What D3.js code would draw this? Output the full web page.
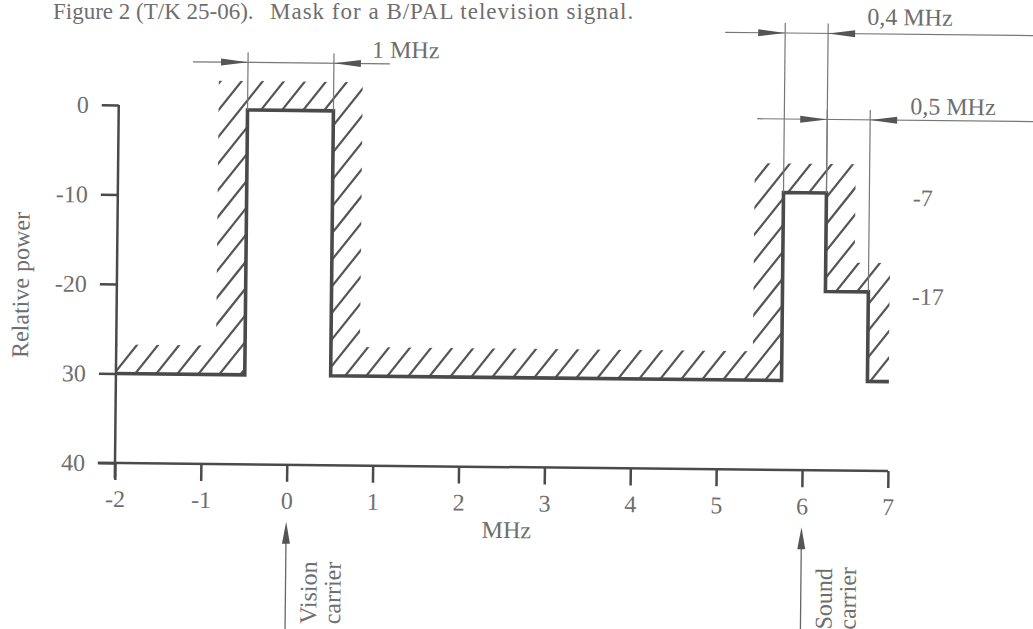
<!DOCTYPE html>
<html>
<head>
<meta charset="utf-8">
<script src="https://cdn.jsdelivr.net/npm/d3@7"></script>
<style>
body{margin:0;background:#fff;}
svg{display:block;font-family:"Liberation Serif","Times New Roman",serif;}
</style>
</head>
<body>
<svg width="1033" height="629"></svg>
<script>
// mask outline, MHz against relative power
const maskFreq  = [-2, -0.5, -0.5, 0.5, 0.5, 5.75, 5.75, 6.25, 6.25, 6.75, 6.75, 7];
const maskLevel = [-30, -30, -0.4, -0.4, -30, -30, -9, -9, -20, -20, -30, -30];
const xTicks = [-2, -1, 0, 1, 2, 3, 4, 5, 6, 7];
const xTickLabels = ['-2', '-1', '0', '1', '2', '3', '4', '5', '6', '7'];
const yTicks = [0, -10, -20, -30, -40];
const yTickLabels = ['0', '-10', '-20', '30', '40'];
// dimension arrows between two frequencies
const dimFrom = [-0.5, 5.75, 6.25];
const dimTo = [0.5, 6.25, 6.75];
const dimLabels = ['1 MHz', '0,4 MHz', '0,5 MHz'];
// levels written right of the sound carrier
const levelLabels = ['-7', '-17'];
const levelAt = [-9, -20];
// carriers
const carrierFreq = [0, 6];
const carrierLabels = [['Vision', 'carrier'], ['Sound', 'carrier']];

const W = 1033;
const svg = d3.select('svg');
const ink = '#4a4a4a';
const textInk = '#6e6e6e';
const fontSize = 24;

const xScale = d3.scaleLinear().domain([-2, 7]).range([115, 888]);
const yScale = d3.scaleLinear().domain([-40, 0]).range([463, 105]);

//title
svg.append('text').attr('x', 53).attr('y', 19).attr('font-size', 23).attr('fill', textInk)
   .text('Figure 2 (T/K 25-06).');
svg.append('text').attr('x', 270).attr('y', 19).attr('font-size', 23).attr('fill', textInk)
   .attr('letter-spacing', 1).text('Mask for a B/PAL television signal.');

// the scan is slightly skewed
const g = svg.append('g').attr('transform', 'rotate(0.6,115,463)');

//hatched band along the outside of the mask
const pts = maskFreq.map((f, i) => [xScale(f), yScale(maskLevel[i])]);
const band = 29;
const xMin = xScale(-2), xMax = xScale(7);
const bands = [];
for (let i = 0; i < pts.length - 1; i++) {
   const [x0, y0] = pts[i], [x1, y1] = pts[i + 1];
   if (y0 === y1) {
      bands.push({x: Math.min(x0, x1), y: y0 - band, w: Math.abs(x1 - x0), h: band});
   } else {
      const top = Math.min(y0, y1), bot = Math.max(y0, y1);
      const left = y1 < y0 ? x0 - band : x0;
      const l = Math.max(left, xMin), r = Math.min(left + band, xMax);
      bands.push({x: l, y: top - band, w: r - l, h: bot - top + band});
   }
}
const clip = svg.append('defs').append('clipPath').attr('id', 'bandClip');
clip.selectAll('rect').data(bands).enter().append('rect')
   .attr('x', d => d.x).attr('y', d => d.y).attr('width', d => d.w).attr('height', d => d.h);

const hatchStep = 21;           // horizontal distance between strokes
const hatchRun = 1 / Math.tan(52 * Math.PI / 180);
const hatchX = d3.range(xMin - 400, xMax + 60, hatchStep);
g.append('g').attr('clip-path', 'url(#bandClip)').selectAll('line').data(hatchX).enter().append('line')
   .attr('x1', d => d).attr('y1', 480)
   .attr('x2', d => d + 480 * hatchRun).attr('y2', 0)
   .attr('stroke', '#555').attr('stroke-width', 2.2);

//axes
const xAxis = d3.axisBottom(xScale).tickValues(xTicks)
   .tickFormat((d, i) => xTickLabels[i]).tickSize(17).tickPadding(10);
const yAxis = d3.axisLeft(yScale).tickValues(yTicks)
   .tickFormat((d, i) => yTickLabels[i]).tickSize(17).tickPadding(13);
const styleAxis = a => {
   a.select('.domain').remove();
   a.attr('font-size', fontSize).attr('font-family', null);
   a.selectAll('line').attr('stroke', ink).attr('stroke-width', 2.5);
   a.selectAll('text').attr('fill', textInk);
};
g.append('g').attr('transform', `translate(0,${yScale(-40)})`).call(xAxis).call(styleAxis);
g.append('g').attr('transform', `translate(${xScale(-2)},0)`).call(yAxis).call(styleAxis);
g.append('line').attr('x1', xScale(-2.2)).attr('x2', xScale(7))
   .attr('y1', yScale(-40)).attr('y2', yScale(-40)).attr('stroke', ink).attr('stroke-width', 2.5);
g.append('line').attr('x1', xScale(-2)).attr('x2', xScale(-2))
   .attr('y1', yScale(0)).attr('y2', yScale(-41.7)).attr('stroke', ink).attr('stroke-width', 2.5);

g.append('text').attr('transform', `translate(27,${(yScale(0) + yScale(-40)) / 2 + 2}) rotate(-90)`)
   .attr('text-anchor', 'middle').attr('font-size', fontSize).attr('fill', textInk).text('Relative power');
g.append('text').attr('x', 507).attr('y', 534).attr('text-anchor', 'middle')
   .attr('font-size', fontSize).attr('fill', textInk).text('MHz');

//the mask itself
g.append('path').attr('d', d3.line()(pts)).attr('fill', 'none')
   .attr('stroke', ink).attr('stroke-width', 3.6).attr('stroke-linejoin', 'miter');

//arrow heads
const arrowHead = (sel, x, y, angle, len, hw) => {
   sel.append('path').attr('d', `M0,0L${-len},${-hw}L${-len},${hw}Z`)
      .attr('transform', `translate(${x},${y}) rotate(${angle})`).attr('fill', '#555');
};
const maskTopAt = f => d3.max(maskFreq.map((m, i) => m === f ? maskLevel[i] : null).filter(v => v !== null));

const dimLayout = [
   {lineY: 61, x0: xScale(-0.5) - 55, x1: xScale(0.5) + 56, lx: xScale(0.5) + 38, ly: 55},
   {lineY: 26, x0: xScale(5.75) - 60, x1: W + 40, lx: xScale(6.25) + 39, ly: 17},
   {lineY: 112, x0: xScale(6.25) - 70, x1: W + 40, lx: xScale(6.75) + 40, ly: 106}
];
dimLabels.forEach((lab, i) => {
   const L = dimLayout[i];
   const dg = g.append('g');
   dg.append('line').attr('x1', L.x0).attr('x2', L.x1).attr('y1', L.lineY).attr('y2', L.lineY)
      .attr('stroke', '#777').attr('stroke-width', 1.2);
   [dimFrom[i], dimTo[i]].forEach(f => {
      dg.append('line').attr('x1', xScale(f)).attr('x2', xScale(f))
        .attr('y1', L.lineY - 10).attr('y2', yScale(maskTopAt(f)))
        .attr('stroke', '#777').attr('stroke-width', 1.2);
   });
   arrowHead(dg, xScale(dimFrom[i]), L.lineY, 0, 27, 3.5);
   arrowHead(dg, xScale(dimTo[i]), L.lineY, 180, 27, 3.5);
   dg.append('text').attr('x', L.lx).attr('y', L.ly).attr('font-size', fontSize)
     .attr('fill', textInk).text(lab);
});

levelLabels.forEach((lab, i) => {
   g.append('text').attr('x', xScale(7) + 22).attr('y', yScale(levelAt[i]) + 4).attr('dy', '0.35em')
      .attr('font-size', fontSize).attr('fill', textInk).text(lab);
});

//carrier arrows under the axis
carrierFreq.forEach((f, i) => {
   const cx = xScale(f);
   g.append('line').attr('x1', cx).attr('x2', cx).attr('y1', 530).attr('y2', 660)
      .attr('stroke', '#666').attr('stroke-width', 1.3);
   arrowHead(g, cx, 520, -90, 22, 4);
   carrierLabels[i].forEach((t, j) => {
      g.append('text').attr('transform', `translate(${cx + 31 + j * 24},622) rotate(-90)`)
        .attr('font-size', fontSize).attr('fill', textInk).text(t);
   });
});
</script>
</body>
</html>
